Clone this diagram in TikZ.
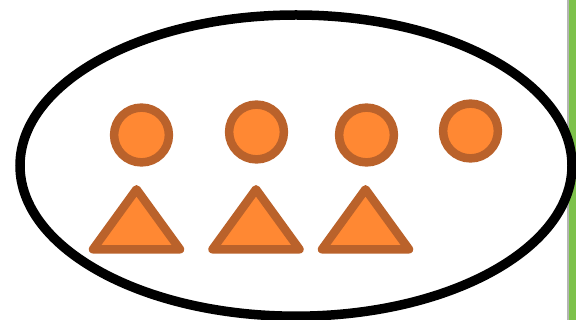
\documentclass[tikz,border=0pt]{standalone}
\begin{document}
\begin{tikzpicture}[x=1pt,y=-1pt,
  ring/.style={draw=black,line width=9.5pt},
  dot/.style={draw=shapeedge,fill=shapefill,line width=8.5pt},
  tri/.style={draw=shapeedge,fill=shapefill,line width=8.5pt,line join=round}]
\definecolor{shapefill}{HTML}{FF8833}
\definecolor{shapeedge}{HTML}{BA622B}
\definecolor{barGreen}{HTML}{7DC24B}
\definecolor{barGray}{HTML}{B4B4B4}
\useasboundingbox (0,0) rectangle (576,320);
\fill[white] (0,0) rectangle (576,320);
\fill[barGray] (567.3,0) rectangle (569.3,320);
\fill[barGreen] (569.3,0) rectangle (576,320);
\begin{scope}
\clip (0,0) rectangle (576,320);
\draw[ring] (296,165.6) ellipse [x radius=276, y radius=150.6];
\end{scope}
\draw[dot] (141.5,135) circle [radius=27.4];
\draw[dot] (256.5,132) circle [radius=27.4];
\draw[dot] (366.5,135) circle [radius=27.4];
\draw[dot] (470.5,131) circle [radius=27.4];
\foreach \cx in {136.5,256,365.5}{
  \draw[tri] (\cx,189.3) -- (\cx+43.5,249.3) -- (\cx-43.5,249.3) -- cycle;
}
\end{tikzpicture}
\end{document}
